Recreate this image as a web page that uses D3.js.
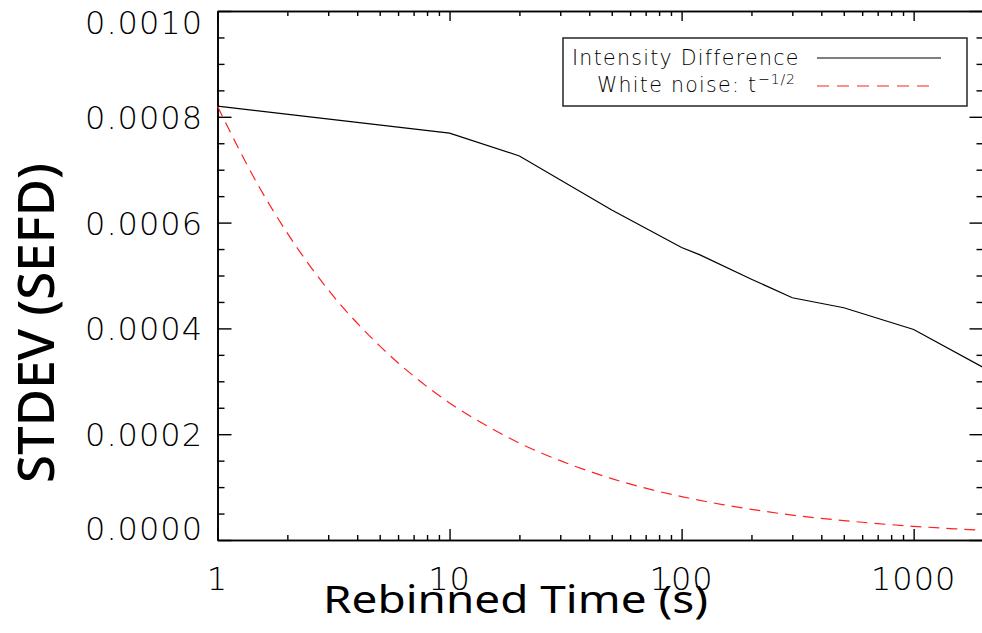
<!DOCTYPE html>
<html>
<head>
<meta charset="utf-8">
<script src="https://cdn.jsdelivr.net/npm/d3@7"></script>
<style>
  html, body { margin: 0; padding: 0; background: #fff; overflow: hidden; }
  svg { display: block; }
  .tick-label { font-family: "DejaVu Sans", sans-serif; font-weight: 200; fill: #000; }
  .title { font-family: "Noto Sans", "Open Sans", sans-serif; fill: #000; }
  .legend-text { font-family: "DejaVu Sans", sans-serif; font-weight: 200; fill: #000; }
</style>
</head>
<body>
<script>
// Rebin times (s) and measured standard deviation of the intensity difference
const rebinTimes = [1, 10, 20, 50, 100, 120, 200, 300, 500, 1000, 2000];
const intensityStdev = [0.000820, 0.000769, 0.000726, 0.000624, 0.000553, 0.000539,
                        0.000493, 0.000458, 0.000439, 0.000398, 0.000326];

// White-noise reference curve sampled at these rebin times
const noiseTimes = [1, 1.5, 2, 3, 5, 7, 10, 15, 20, 30, 50, 70, 100, 150, 200, 300, 500, 700, 1000, 1500, 2000];
const noiseStdev = [0.000820, 0.000670, 0.000580, 0.000473, 0.000367, 0.000310, 0.000259,
                    0.000212, 0.000183, 0.000150, 0.000116, 0.000098, 0.000082, 0.000067,
                    0.000058, 0.000047, 0.0000367, 0.000031, 0.0000259, 0.0000212, 0.0000183];

const yTickValues = [0, 0.0002, 0.0004, 0.0006, 0.0008, 0.0010];
const yTickLabels = ["0.0000", "0.0002", "0.0004", "0.0006", "0.0008", "0.0010"];
const xTickValues = [1, 10, 100, 1000];
const xTickLabels = ["1", "10", "100", "1000"];
const legendLabels = ["Intensity Difference", "White noise: t"];

(function draw() {
  const W = 982, H = 633;
  const box = { left: 217.5, right: 983.5, top: 11, bottom: 540 };

  const svg = d3.select("body").append("svg").attr("width", W).attr("height", H);

  const x = d3.scaleLog().domain([1, 2000]).range([box.left, box.right]);
  const y = d3.scaleLinear().domain([0, 0.0010]).range([box.bottom, box.top]);

  // minor tick positions
  const xMinor = [];
  [1, 10, 100, 1000].forEach(d => { for (let k = 2; k <= 9; k++) if (d * k <= 2000) xMinor.push(d * k); });
  const yMinor = d3.range(0, 0.00100001, 0.00005)
    .filter(v => Math.abs(Math.round(v / 0.0002) * 0.0002 - v) > 1e-9);

  const frame = svg.append("g");

  const axisB = frame.append("g").attr("transform", `translate(0,${box.bottom})`)
    .call(d3.axisBottom(x).tickValues(xTickValues).tickSizeInner(-11).tickSizeOuter(0).tickFormat(() => ""));
  axisB.append("g").call(d3.axisBottom(x).tickValues(xMinor).tickSizeInner(-5).tickSizeOuter(0).tickFormat(() => ""));

  const axisT = frame.append("g").attr("transform", `translate(0,${box.top})`)
    .call(d3.axisTop(x).tickValues(xTickValues).tickSizeInner(-10).tickSizeOuter(0).tickFormat(() => ""));
  axisT.append("g").call(d3.axisTop(x).tickValues(xMinor).tickSizeInner(-5).tickSizeOuter(0).tickFormat(() => ""));

  const axisL = frame.append("g").attr("transform", `translate(${box.left},0)`)
    .call(d3.axisLeft(y).tickValues(yTickValues).tickSizeInner(-14).tickSizeOuter(0).tickFormat(() => ""));
  axisL.append("g").call(d3.axisLeft(y).tickValues(yMinor).tickSizeInner(-7).tickSizeOuter(0).tickFormat(() => ""));

  const axisR = frame.append("g").attr("transform", `translate(${box.right},0)`)
    .call(d3.axisRight(y).tickValues(yTickValues).tickSizeInner(-14).tickSizeOuter(0).tickFormat(() => ""));
  axisR.append("g").call(d3.axisRight(y).tickValues(yMinor).tickSizeInner(-7).tickSizeOuter(0).tickFormat(() => ""));

  frame.selectAll(".domain").attr("stroke", "#000").attr("stroke-width", 1.6);
  frame.selectAll(".tick line").attr("stroke", "#000").attr("stroke-width", 1.4);

  // tick labels: centred on their tick, but kept inside the frame's height
  svg.append("g").selectAll("text").data(yTickValues).join("text")
    .attr("class", "tick-label")
    .attr("x", 203)
    .attr("y", d => Math.min(Math.max(y(d) + 12, box.top + 23), box.bottom))
    .attr("text-anchor", "end")
    .attr("font-size", 32)
    .attr("letter-spacing", 1)
    .text((d, i) => yTickLabels[i]);

  svg.append("g").selectAll("text").data(xTickValues).join("text")
    .attr("class", "tick-label")
    .attr("x", d => x(d)).attr("y", 590)
    .attr("text-anchor", "middle")
    .attr("font-size", 32)
    .attr("letter-spacing", 1)
    .text((d, i) => xTickLabels[i]);

  // axis titles
  svg.append("text").attr("class", "title")
    .attr("x", 323).attr("y", 613)
    .attr("font-size", 39)
    .attr("textLength", 385).attr("lengthAdjust", "spacingAndGlyphs")
    .text("Rebinned Time (s)");

  svg.append("text").attr("class", "title")
    .attr("transform", "translate(54,483) rotate(-90)")
    .attr("font-size", 50).attr("font-weight", 500)
    .attr("textLength", 320).attr("lengthAdjust", "spacingAndGlyphs")
    .text("STDEV (SEFD)");

  // data lines
  const plot = svg.append("g");
  const measured = rebinTimes.map((t, i) => [t, intensityStdev[i]]);
  const noise = noiseTimes.map((t, i) => [t, noiseStdev[i]]);

  plot.append("path")
    .datum(noise)
    .attr("fill", "none").attr("stroke", "#ff2020").attr("stroke-width", 1.2)
    .attr("stroke-dasharray", "11,7")
    .attr("d", d3.line().x(d => x(d[0])).y(d => y(d[1])).curve(d3.curveMonotoneX));

  plot.append("path")
    .datum(measured)
    .attr("fill", "none").attr("stroke", "#000").attr("stroke-width", 1.2)
    .attr("d", d3.line().x(d => x(d[0])).y(d => y(d[1])));

  // legend
  const lg = svg.append("g");
  lg.append("rect").attr("x", 563).attr("y", 38).attr("width", 404).attr("height", 68)
    .attr("fill", "#fff").attr("stroke", "#333").attr("stroke-width", 1.6);
  lg.append("text").attr("class", "legend-text").attr("x", 572).attr("y", 65)
    .attr("font-size", 20.5).attr("letter-spacing", 1.3).text(legendLabels[0]);
  const t2 = lg.append("text").attr("class", "legend-text").attr("x", 597).attr("y", 92)
    .attr("font-size", 20.5).attr("letter-spacing", 1.3);
  t2.append("tspan").text(legendLabels[1]);
  t2.append("tspan").attr("dy", -8).attr("dx", 1).attr("font-size", 14).attr("letter-spacing", 0.8).text("\u22121/2");
  lg.append("line").attr("x1", 817).attr("x2", 941).attr("y1", 58).attr("y2", 58)
    .attr("stroke", "#000").attr("stroke-width", 1.2);
  lg.append("line").attr("x1", 817).attr("x2", 937).attr("y1", 86).attr("y2", 86)
    .attr("stroke", "#ff2020").attr("stroke-width", 1.2).attr("stroke-dasharray", "12,8");
})();
</script>
</body>
</html>
